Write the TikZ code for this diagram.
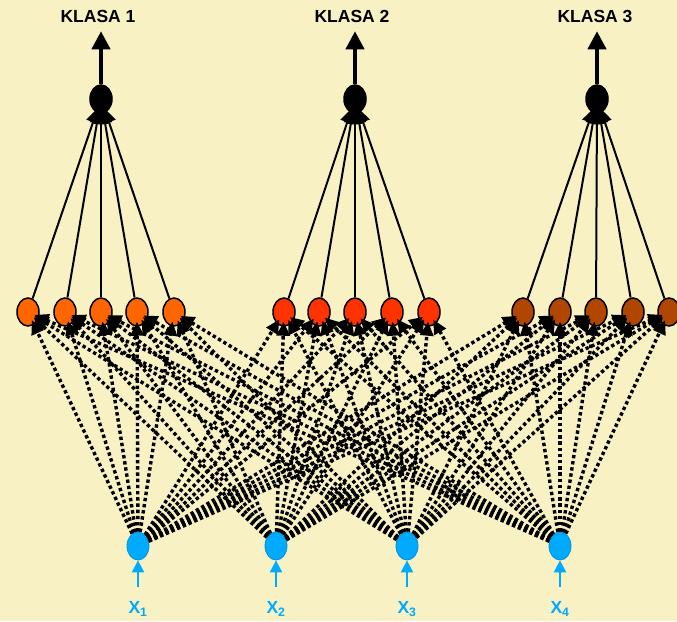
\documentclass[tikz,border=0pt]{standalone}
\usepackage{fontspec}
\setmainfont{Liberation Sans}
\usetikzlibrary{shapes.geometric, arrows.meta}

\definecolor{tlo}{RGB}{247,241,196}
\definecolor{grupaA}{RGB}{255,102,0}
\definecolor{grupaB}{RGB}{255,51,0}
\definecolor{grupaC}{RGB}{176,70,0}
\definecolor{wejscie}{RGB}{0,170,255}

\begin{document}
\begin{tikzpicture}[x=1pt, y=-1pt,
    neuron/.style={draw, ellipse, inner sep=0pt, minimum width=22pt, minimum height=28pt, line width=1.5pt},
    inneuron/.style={neuron, draw=wejscie!85!black, line width=0.8pt, fill=wejscie},
    link/.style={line width=3.4pt, dash pattern=on 3.4pt off 2.8pt, shorten >=-5pt,
        -{Triangle[length=14pt, width=13pt]}},
    conn/.style={line width=2pt, shorten >=-5pt, -{Triangle[length=15pt, width=14pt]}},
    klasa/.style={font=\fontsize{17.5}{20}\selectfont\bfseries}]

    \fill[tlo] (0,0) rectangle (677,621);
    \useasboundingbox (0,0) rectangle (677,621);

    % warstwa wyjsciowa
    \node[neuron, fill=black] (ka) at (101,99) {};
    \node[neuron, fill=black] (kb) at (355,99) {};
    \node[neuron, fill=black] (kc) at (597,99) {};
    \node[klasa] (la) at (98,16) {KLASA 1};
    \node[klasa] (lb) at (352,16) {KLASA 2};
    \node[klasa] (lc) at (595,16) {KLASA 3};
    \foreach \g in {a,b,c} {
        \coordinate (t\g) at ([yshift=53pt]k\g.north);
        \draw[line width=4pt, -{Triangle[length=18pt, width=18pt]}] (k\g) -- (t\g);
    }

    % warstwa ukryta
    \foreach \x [count=\i] in {28,65,101,137,174}
        \node[neuron, fill=grupaA] (a\i) at (\x,312) {};
    \foreach \x [count=\i] in {284,319,355,392,429}
        \node[neuron, fill=grupaB] (b\i) at (\x,312) {};
    \foreach \x [count=\i] in {523,560,596,633,669}
        \node[neuron, fill=grupaC] (c\i) at (\x,312) {};

    % wejscia
    \foreach \x [count=\j] in {138,276,407,560} {
        \node[inneuron] (in\j) at (\x,546) {};
        \coordinate (s\j) at (\x,587);
        \node[klasa, text=wejscie] (x\j) at (\x,609) {X\textsubscript{\j}};
        \draw[wejscie, line width=2.2pt, -{Triangle[length=12pt, width=12pt]}] (s\j) -- (in\j);
    }

    % polaczenia
    \foreach \g in {a,b,c} {
        \foreach \i in {1,...,5} {
            \draw[conn] (\g\i) -- (k\g);
            \foreach \j in {1,...,4}
                \draw[link] (in\j) -- (\g\i);
        }
    }
\end{tikzpicture}
\end{document}
